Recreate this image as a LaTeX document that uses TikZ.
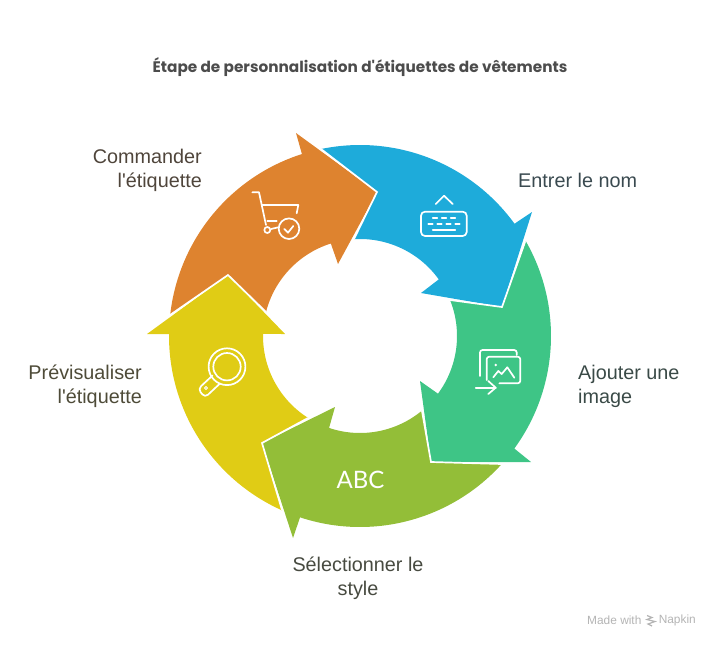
\documentclass[tikz,border=0pt]{standalone}
\usepackage{fontspec}
\usetikzlibrary{calc}
\newfontfamily\labelfont{Liberation Sans}
\newfontfamily\titlefont{Poppins}
\newfontfamily\abcfont{Lato}
\definecolor{orangeseg}{HTML}{DE832F}
\definecolor{blueseg}{HTML}{1EABDA}
\definecolor{greenseg}{HTML}{3EC586}
\definecolor{limeseg}{HTML}{93BE38}
\definecolor{yellowseg}{HTML}{E0CC15}
\definecolor{orangetext}{HTML}{4F453B}
\definecolor{bluetext}{HTML}{3A4A50}
\definecolor{greentext}{HTML}{3A4A47}
\definecolor{limetext}{HTML}{474A40}
\definecolor{yellowtext}{HTML}{4E4B38}
\definecolor{marktext}{HTML}{B4B4B4}
\tikzset{
    gapline/.style={draw=white, line width=1.7pt, line join=miter},
    icon/.style={draw=white, line width=1.7pt, line cap=round, line join=round},
    steplabel/.style={inner sep=0pt, font=\labelfont\fontsize{19.8}{24}\selectfont},
    marklabel/.style={inner sep=0pt, text=marktext, font=\labelfont\fontsize{11.9}{14}\selectfont}
}
\begin{document}
\begin{tikzpicture}[x=1pt, y=-1pt]
    \useasboundingbox (0,0) rectangle (720,648);
    \coordinate (c) at (360,336);

    \fill[orangeseg] ($(c)+(186.3:191)$) arc[start angle=186.3, end angle=252.3, x radius=191, y radius=191]
        -- (296,133) -- (377,192) -- (338,264) -- ($(c)+(252.5:97)$)
        arc[start angle=252.5, end angle=194.3, x radius=97, y radius=97] -- (228,275) -- cycle;
    \fill[blueseg] ($(c)+(258.2:191)$) arc[start angle=258.2, end angle=324, x radius=191, y radius=191]
        -- (532,212) -- (502,307) -- (421,293) -- ($(c)+(324.3:97)$)
        arc[start angle=324.3, end angle=266.5, x radius=97, y radius=97] -- (377,192) -- cycle;
    \fill[greenseg] ($(c)+(-29.7:191)$) arc[start angle=-29.7, end angle=36.1, x radius=191, y radius=191]
        -- (531,462) -- (431,462) -- (420,381) -- ($(c)+(36.5:97)$)
        arc[start angle=36.5, end angle=-21.8, x radius=97, y radius=97] -- (502,307) -- cycle;
    \fill[limeseg] ($(c)+(42:191)$) arc[start angle=42, end angle=108.3, x radius=191, y radius=191]
        -- (293,538) -- (262,443) -- (335,407) -- ($(c)+(108.6:97)$)
        arc[start angle=108.6, end angle=50.4, x radius=97, y radius=97] -- (431,462) -- cycle;
    \fill[yellowseg] (228,275) -- (285,334) -- ($(c)+(181.2:97)$)
        arc[start angle=181.2, end angle=122.4, x radius=97, y radius=97] -- (262,443) -- ($(c)+(114.1:191)$)
        arc[start angle=114.1, end angle=180.6, x radius=191, y radius=191] -- (147,334) -- cycle;

    \draw[gapline] (321,149) -- (377,192) -- (354,239);
    \draw[gapline] (525,242) -- (502,307) -- (450,300);
    \draw[gapline] (422,411) -- (431,462) -- (502,464);
    \draw[gapline] (308,418) -- (262,443) -- (282,510);
    \draw[gapline] (170,315) -- (228,275) -- (266,312);

    \node[font=\titlefont\bfseries\fontsize{15.3}{17}\selectfont, text=black!70, inner sep=0pt] (title) at (360,67)
        {Étape de personnalisation d'étiquettes de vêtements};
    \node[steplabel, anchor=east, align=right, text=orangetext] (commander) at (202,170.5) {Commander\\l'étiquette};
    \node[steplabel, anchor=west, text=bluetext] (entrer) at (518,180) {Entrer le nom};
    \node[steplabel, anchor=west, align=left, text=greentext] (ajouter) at (578,386.5) {Ajouter une\\image};
    \node[steplabel, align=center, text=limetext] (selection) at (358,578.5) {Sélectionner le\\style};
    \node[steplabel, anchor=east, align=right, text=yellowtext] (previs) at (142,386.5) {Prévisualiser\\l'étiquette};
    \node[inner sep=0pt, text=white, font=\abcfont\fontsize{24}{24}\selectfont] (abc) at (360.5,480) {ABC};

    % panier
    \draw[icon] (252.3,192.3) -- (259,192.3) -- (266,225);
    \draw[icon] (261.7,205) -- (298.3,205) -- (296.7,213.3);
    \draw[icon] (267.3,220.7) -- (276.7,220.7);
    \draw[icon] (267.3,230) circle (3);
    \draw[icon] (271,229) -- (278.3,227.3);
    \draw[icon] (289,228.7) circle (10.3);
    \draw[icon] (284.3,229) -- (288,232.7) -- (293.3,226);

    % clavier
    \draw[icon, rounded corners=4] (421,211.7) rectangle (466.7,236);
    \draw[icon] (435.7,204) -- (444,195.7) -- (452.7,204);
    \foreach \xa in {432.7,441.7,450.7}
        \draw[icon] (\xa,217.7) -- ++(4.6,0);
    \foreach \xa in {428.3,437.3,446.3,455.3}
        \draw[icon] (\xa,223.7) -- ++(4.4,0);
    \draw[icon] (432.7,229.7) -- (455.3,229.7);

    % images
    \draw[icon, rounded corners=2.5] (480,376) -- (480,350) -- (516.7,350) -- (516.7,355);
    \draw[icon, rounded corners=2.5] (486.7,380) -- (486.7,356.7) -- (520.3,356.7) -- (520.3,383.3) -- (499.3,383.3);
    \fill[white] (495.7,365) circle (1.4);
    \draw[icon] (493.3,377.3) -- (498.3,371) -- (501.7,374) -- (507.3,367.3) -- (514.3,377.7);
    \draw[icon] (475.7,387.7) -- (495.7,387.7);
    \draw[icon] (488.3,381) -- (495.7,387.7) -- (488.3,394);

    % loupe
    \draw[icon] (227,366.7) circle (18.4);
    \draw[icon] (227,366.7) circle (13.7);
    \draw[icon, rounded corners=4] (212.5,375.5) -- (198,389) -- (205,397.5) -- (220,383.5);
    \draw[icon, line width=1pt] (206,388) circle (1.5);

    \node[marklabel, anchor=west] (made) at (587,620.5) {Made with};
    \node[marklabel, anchor=east] (napkin) at (696,620.5) {Napkin};
    \draw[marktext, line width=1.2pt] (647,615.5) -- (652,617.5) -- (647,619.5) -- (655,621.5) -- (648,624) -- (652,626);
\end{tikzpicture}
\end{document}
